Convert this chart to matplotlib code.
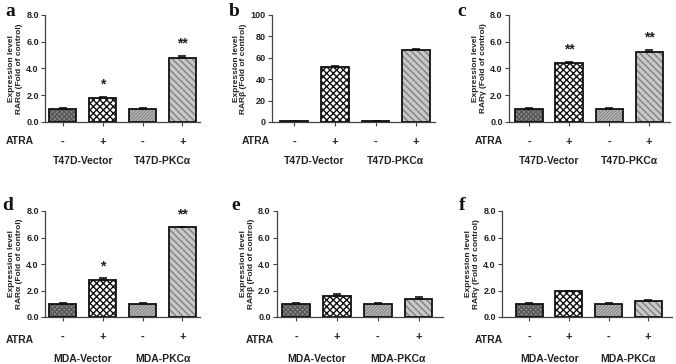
import matplotlib
matplotlib.use("Agg")
import matplotlib.pyplot as plt
from matplotlib.transforms import blended_transform_factory

plt.rcParams['font.family'] = ['Liberation Sans', 'DejaVu Sans']
plt.rcParams['hatch.linewidth'] = 1.0

# data
atra = ['-', '+', '-', '+']
panels = ['a', 'b', 'c', 'd', 'e', 'f']
receptors = ['RAR\u03b1', 'RAR\u03b2', 'RAR\u03b3', 'RAR\u03b1', 'RAR\u03b2', 'RAR\u03b3']
groups_t47d = ['T47D-Vector', 'T47D-PKC\u03b1']
groups_mda = ['MDA-Vector', 'MDA-PKC\u03b1']

vals_a = [1.0, 1.83, 1.0, 4.75]
err_a = [0.02, 0.06, 0.02, 0.2]
vals_b = [1.0, 51.7, 1.0, 67.2]
err_b = [0.3, 0.6, 0.3, 1.2]
vals_c = [1.0, 4.38, 1.0, 5.26]
err_c = [0.02, 0.1, 0.02, 0.1]
vals_d = [1.0, 2.8, 1.0, 6.77]
err_d = [0.02, 0.12, 0.02, 0.06]
vals_e = [1.0, 1.55, 1.0, 1.36]
err_e = [0.02, 0.16, 0.02, 0.12]
vals_f = [1.0, 1.93, 1.0, 1.22]
err_f = [0.02, 0.04, 0.02, 0.05]

stars_a = ['', '*', '', '**']
stars_b = ['', '', '', '']
stars_c = ['', '**', '', '**']
stars_d = ['', '*', '', '**']
stars_e = ['', '', '', '']
stars_f = ['', '', '', '']

all_vals = [vals_a, vals_b, vals_c, vals_d, vals_e, vals_f]
all_errs = [err_a, err_b, err_c, err_d, err_e, err_f]
all_stars = [stars_a, stars_b, stars_c, stars_d, stars_e, stars_f]

# bar styles: face, hatch, hatch colour
faces = ['#8e8e8e', '#ffffff', '#c2c2c2', '#c8c8c8']
hatches = ['xxxxxxx', 'xxxxx', '//////////', '\\\\\\\\\\']
hcols = ['#555555', '#111111', '#8a8a8a', '#808080']

W, H = 676, 364
# axes boxes in pixels: left, top, right, bottom, and xlim
boxes = [
    (45, 15, 200, 122, (-0.45, 3.44)),
    (272, 15, 435, 122, (-0.54, 3.46)),
    (509, 15, 670, 122, (-0.5, 3.52)),
    (45, 211, 200, 317, (-0.45, 3.44)),
    (277, 211, 443, 317, (-0.47, 3.6)),
    (502, 211, 672, 317, (-0.69, 3.6)),
]
letter_pos = [(10, 12), (234, 12), (462, 12), (8, 205), (236, 205), (462, 205)]

fig = plt.figure(figsize=(W / 100, H / 100), dpi=100)
txt = '#222222'

for i in range(6):
    l, t, r, b, xl = boxes[i]
    ax = fig.add_axes([l / W, 1 - b / H, (r - l) / W, (b - t) / H])
    vals = all_vals[i]
    errs = all_errs[i]
    x = range(4)
    ax.bar(x, vals, width=0.68, color=faces, edgecolor='none', zorder=1)
    for j in x:
        ax.bar(j, vals[j], width=0.68, fill=False, hatch=hatches[j],
               edgecolor=hcols[j], linewidth=0, zorder=2)
    ax.bar(x, vals, width=0.68, fill=False, edgecolor='#111111', linewidth=1.3, zorder=3)
    ax.errorbar(x, vals, yerr=[[0] * 4, errs], fmt='none', ecolor='#111111',
                elinewidth=1.0, capsize=3, capthick=1.2, zorder=4)

    ymax = 100 if i == 1 else 8.0
    ax.set_ylim(0, ymax)
    ax.set_xlim(*xl)
    if i == 1:
        ax.set_yticks([0, 20, 40, 60, 80, 100])
        ax.set_yticklabels(['0', '20', '40', '60', '80', '100'])
    else:
        ax.set_yticks([0, 2, 4, 6, 8])
        ax.set_yticklabels(['0.0', '2.0', '4.0', '6.0', '8.0'])
    ax.set_xticks(list(x))
    ax.set_xticklabels(atra, fontsize=8, fontweight='bold', color=txt)
    ax.tick_params(axis='x', length=3, pad=8, color='#444444', width=0.8)
    ax.tick_params(axis='y', length=3, pad=1.5, labelsize=6.5, color='#444444',
                   width=0.8, labelcolor=txt)
    for lab in ax.get_yticklabels():
        lab.set_fontweight('bold')
    for s in ['top', 'right']:
        ax.spines[s].set_visible(False)
    for s in ['left', 'bottom']:
        ax.spines[s].set_color('#444444')
        ax.spines[s].set_linewidth(0.9)

    ax.set_ylabel('Expression level\n' + receptors[i] + ' (Fold of control)',
                  fontsize=6, fontweight='bold', color=txt, labelpad=2.5,
                  linespacing=1.1)

    for j in x:
        if all_stars[i][j]:
            ax.text(j, vals[j] + errs[j] + ymax * 0.05, all_stars[i][j],
                    ha='center', va='bottom', fontsize=10, fontweight='bold', color=txt)

    trans = blended_transform_factory(ax.transData, fig.transFigure)
    groups = groups_t47d if i < 3 else groups_mda
    gy = 1 - (161 if i < 3 else 359) / H
    ax.text(0.5, gy, groups[0], transform=trans, ha='center', va='center',
            fontsize=7.5, fontweight='bold', color=txt)
    ax.text(2.5, gy, groups[1], transform=trans, ha='center', va='center',
            fontsize=7.5, fontweight='bold', color=txt)

    ay = 1 - (141 if i < 3 else 340) / H
    ax_x = [20, 256, 489, 20, 260, 489][i]
    fig.text(ax_x / W, ay, 'ATRA', ha='center', va='center',
             fontsize=7.5, fontweight='bold', color=txt)

    lx, ly = letter_pos[i]
    fig.text(lx / W, 1 - ly / H, panels[i], ha='center', va='center',
             fontsize=14, fontweight='bold', family='Liberation Serif', color='#111111')

fig.savefig('out.png', dpi=100)
